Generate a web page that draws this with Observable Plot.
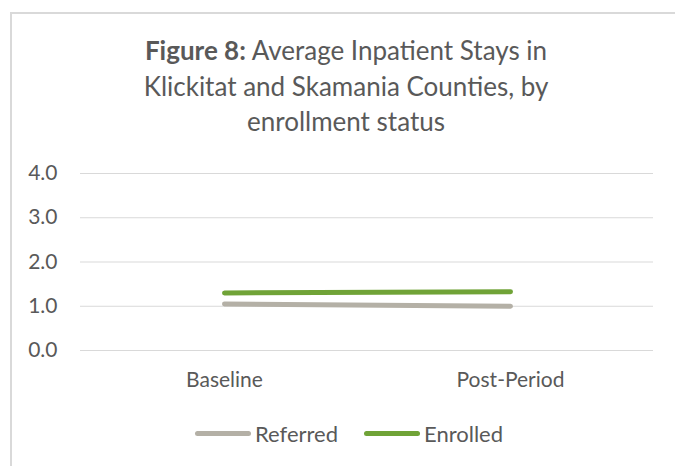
<!DOCTYPE html>
<html>
<head>
<meta charset="utf-8">
<script src="https://cdn.jsdelivr.net/npm/d3@7"></script>
<script src="https://cdn.jsdelivr.net/npm/@observablehq/plot@0.6"></script>
<style>
  html, body { margin: 0; padding: 0; background: #fff; overflow: hidden; }
  #wrap { position: relative; width: 675px; height: 466px; overflow: hidden; font-family: Lato, "Open Sans", sans-serif; color: #595959; }
  #ftop { position: absolute; left: 10px; top: 12px; width: 665px; height: 1.5px; background: #d9d9d9; }
  #fleft { position: absolute; left: 10px; top: 12px; width: 1.5px; height: 454px; background: #d9d9d9; }
  #title { position: absolute; left: 10px; width: 672px; top: 33px; text-align: center; font-size: 26px; line-height: 35.5px; color: #595959; }
  #title b { font-weight: 700; }
  #chart { position: absolute; left: 0; top: 150px; }
  #legend { position: absolute; top: 420px; left: 0; width: 675px; height: 26px; font-size: 22px; color: #595959; }
  .item { position: absolute; top: 0; display: flex; align-items: center; height: 26px; }
  .sw { display: inline-block; width: 56px; height: 5px; border-radius: 3px; margin-right: 4px; }
</style>
</head>
<body>
<div id="wrap">
  <div id="ftop"></div>
  <div id="fleft"></div>
  <div id="title"><b>Figure 8:</b> Average Inpatient Stays in<br>Klickitat and Skamania Counties, by<br>enrollment status</div>
  <div id="chart"></div>
  <div id="legend"></div>
</div>
<script>
const categories = ["Baseline", "Post-Period"];
const seriesNames = ["Referred", "Enrolled"];
const referred = [1.05, 1.00];
const enrolled = [1.30, 1.33];
const yTicks = [0, 1, 2, 3, 4];
const colors = ["#b4b0a6", "#70a337"];

const rows = [];
categories.forEach((c, i) => {
  rows.push({period: c, series: "Referred", value: referred[i]});
  rows.push({period: c, series: "Enrolled", value: enrolled[i]});
});

const plot = Plot.plot({
  width: 675,
  height: 250,
  marginTop: 23,
  marginBottom: 50,
  marginLeft: 80,
  marginRight: 22,
  style: {fontFamily: "Lato, 'Open Sans', sans-serif", fontSize: "21px", color: "#595959", background: "transparent"},
  x: {type: "point", domain: categories, padding: 0.5, label: null},
  y: {domain: [0, 4], ticks: yTicks, label: null},
  color: {domain: seriesNames, range: colors},
  marks: [
    Plot.ruleY(yTicks, {stroke: "#d9d9d9", strokeWidth: 1.2}),
    Plot.axisY({ticks: yTicks, tickFormat: d => d.toFixed(1), tickSize: 0, tickPadding: 23, label: null, fill: "#595959"}),
    Plot.axisX({tickSize: 0, tickPadding: 22, label: null, fill: "#595959"}),
    Plot.line(rows, {x: "period", y: "value", z: "series", stroke: "series", strokeWidth: 5, strokeLinecap: "round"})
  ]
});
document.getElementById("chart").appendChild(plot);

const legend = document.getElementById("legend");
const lefts = [195, 364];
seriesNames.forEach((s, i) => {
  const it = document.createElement("div");
  it.className = "item";
  it.style.left = lefts[i] + "px";
  it.innerHTML = `<span class="sw" style="background:${colors[i]}"></span><span>${s}</span>`;
  legend.appendChild(it);
});
</script>
</body>
</html>
